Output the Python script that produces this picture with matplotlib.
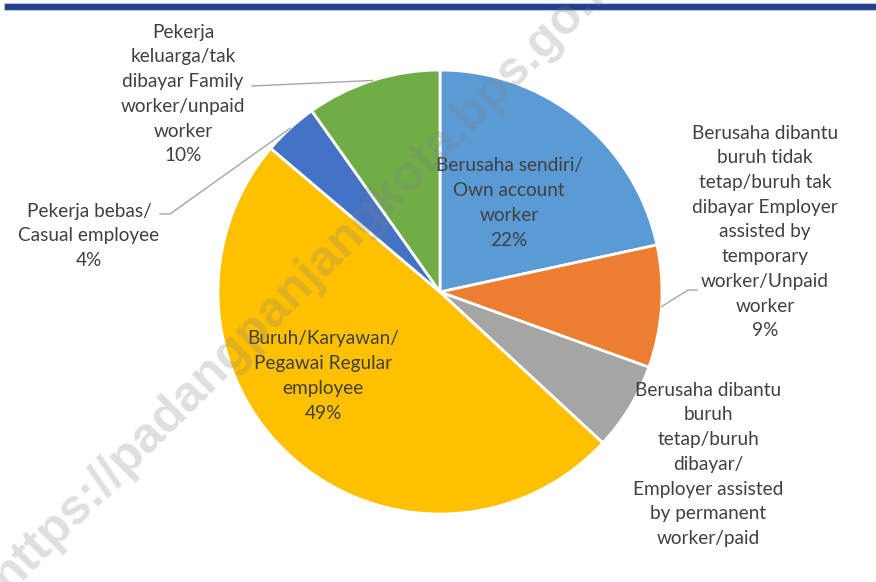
import numpy as np
import matplotlib
matplotlib.use("Agg")
from matplotlib import pyplot as plt
from matplotlib.patches import Rectangle
from matplotlib.transforms import Bbox, TransformedBbox

# data (percent of workers by status)
categories = [
    "Berusaha sendiri/\nOwn account\nworker",
    "Berusaha dibantu\nburuh tidak\ntetap/buruh tak\ndibayar Employer\nassisted by\ntemporary\nworker/Unpaid\nworker",
    "Berusaha dibantu\nburuh\ntetap/buruh\ndibayar/\nEmployer assisted\nby permanent\nworker/paid\nemployee",
    "Buruh/Karyawan/\nPegawai Regular\nemployee",
    "Pekerja bebas/\nCasual employee",
    "Pekerja\nkeluarga/tak\ndibayar Family\nworker/unpaid\nworker",
]
values = [21.6, 8.9, 6.4, 49.3, 4.0, 9.8]
colors = ["#5B9BD5", "#ED7D31", "#A5A5A5", "#FFC000", "#4472C4", "#70AD47"]

W, H = 876, 582
fig = plt.figure(figsize=(W / 100, H / 100), dpi=100)
ax = fig.add_axes([0, 0, 1, 1])

cx, cy, r = 440, H - 292, 222
wedges, _ = ax.pie(values, colors=colors, startangle=90, counterclock=False,
                   center=(cx, cy), radius=r,
                   wedgeprops=dict(edgecolor="white", linewidth=2))
ax.set_xlim(0, W)
ax.set_ylim(0, H)
ax.set_aspect("equal")
ax.axis("off")

txt = dict(fontsize=13.7, color="#404040", ha="center", va="center",
           family="Lato", linespacing=1.55)

def label(i):
    return categories[i] + "\n%d%%" % round(values[i])

def mid_point(i, frac=1.0):
    w = wedges[i]
    a = np.deg2rad((w.theta1 + w.theta2) / 2)
    return cx + frac * r * np.cos(a), cy + frac * r * np.sin(a)

# labels inside the two big slices
ax.text(509, H - 203, label(0), **txt)
ax.text(323, H - 376, label(3), **txt)

# outside labels with leader lines
ax.text(765, H - 232, label(1), **txt)
t2 = ax.text(708, H - 489, label(2), **txt)
# the source image is cropped just below this label
t2.set_clip_on(True)
t2.set_clip_box(TransformedBbox(Bbox([[0, H - 554], [W, H]]), ax.transData))
ax.text(89, H - 236, label(4), **txt)
ax.text(183, H - 94, label(5), **txt)

leaders = {1: [(688, 290), (697, 290)],
           4: [(170, 214), (160, 214)],
           5: [(252, 86)]}
for i, pts in leaders.items():
    x0, y0 = mid_point(i)
    xs = [x0] + [p[0] for p in pts]
    ys = [y0] + [H - p[1] for p in pts]
    ax.plot(xs, ys, color="#A6A6A6", lw=1)

# top banner line
fig.patches.append(Rectangle((4 / W, 1 - 10 / H), 1, 7 / H, transform=fig.transFigure,
                             facecolor="#233F8C", edgecolor="#B4C7E7", lw=0.8))

# watermark
fig.text(309 / W, 1 - 274 / H, "https://padangpanjangkota.bps.go.id", rotation=45,
         rotation_mode="anchor", ha="center", va="center", fontsize=36,
         fontweight="bold", family="Liberation Sans", color="#808080", alpha=0.25)

fig.savefig("out.png", dpi=100)
